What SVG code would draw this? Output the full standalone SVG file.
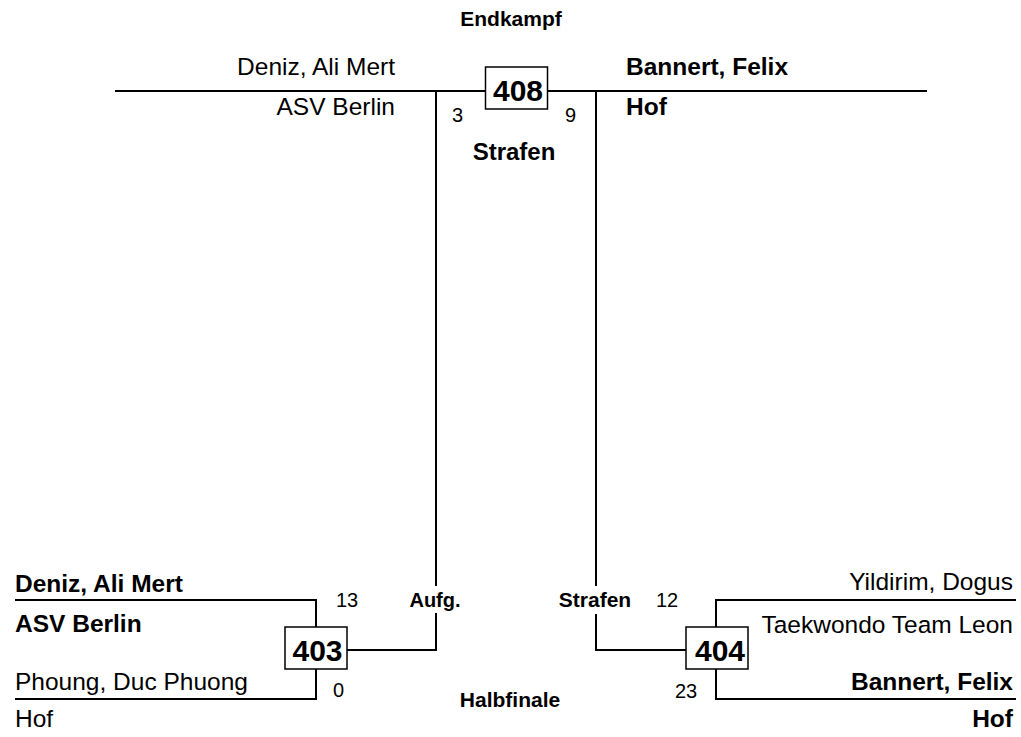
<svg xmlns="http://www.w3.org/2000/svg" width="1021" height="737" viewBox="0 0 1021 737">
<style>
text{font-family:"Liberation Sans",Arial,sans-serif;fill:#000}
.n{font-size:24.5px}
.b{font-weight:bold}
.s{font-size:20px}
.lab{font-size:21px;font-weight:bold}
.num{font-size:30px;font-weight:bold}
.ln{stroke:#000;stroke-width:2;fill:none}
.box{fill:#fff;stroke:#000;stroke-width:1.5}
.e{text-anchor:end}
.m{text-anchor:middle}
</style>
<rect width="1021" height="737" fill="#fff"/>
<g id="connectors">
<path class="ln" d="M115 91H927"/>
<path class="ln" d="M436 91V586M436 613V650H347"/>
<path class="ln" d="M596 91V586M596 614V650H686"/>
<path class="ln" d="M15 600H316V627M316 669V699H15"/>
<path class="ln" d="M1016 600H716V627M716 669V699H1016"/>
</g>
<g id="labels">
<text class="lab m" x="511" y="26">Endkampf</text>
<text class="lab m" x="514" y="160" style="font-size:24px">Strafen</text>
<text class="lab m" x="435" y="607" style="font-size:20px">Aufg.</text>
<text class="lab m" x="595" y="607">Strafen</text>
<text class="lab m" x="510" y="707">Halbfinale</text>
</g>
<g id="node-408">
<rect class="box" x="485.5" y="67" width="62" height="42"/>
<text class="num m" x="518" y="101">408</text>
<text class="s" x="452" y="122">3</text>
<text class="s" x="565" y="122">9</text>
</g>
<g id="top-left">
<text class="n e" x="395" y="75">Deniz, Ali Mert</text>
<text class="n e" x="395" y="115">ASV Berlin</text>
</g>
<g id="top-right">
<text class="n b" x="626" y="75">Bannert, Felix</text>
<text class="n b" x="626" y="115">Hof</text>
</g>
<g id="node-403">
<rect class="box" x="285" y="627" width="62" height="42"/>
<text class="num m" x="317.5" y="661">403</text>
<text class="s" x="336" y="607">13</text>
<text class="s" x="333" y="697">0</text>
</g>
<g id="bottom-left">
<text class="n b" x="15" y="592">Deniz, Ali Mert</text>
<text class="n b" x="15" y="632">ASV Berlin</text>
<text class="n" x="15" y="690">Phoung, Duc Phuong</text>
<text class="n" x="15" y="727">Hof</text>
</g>
<g id="node-404">
<rect class="box" x="686" y="627" width="62" height="42"/>
<text class="num m" x="720" y="661">404</text>
<text class="s" x="656" y="607">12</text>
<text class="s" x="675" y="698">23</text>
</g>
<g id="bottom-right">
<text class="n e" x="1013" y="590">Yildirim, Dogus</text>
<text class="n e" x="1013" y="633">Taekwondo Team Leon</text>
<text class="n b e" x="1013" y="690">Bannert, Felix</text>
<text class="n b e" x="1013" y="727">Hof</text>
</g>
</svg>
